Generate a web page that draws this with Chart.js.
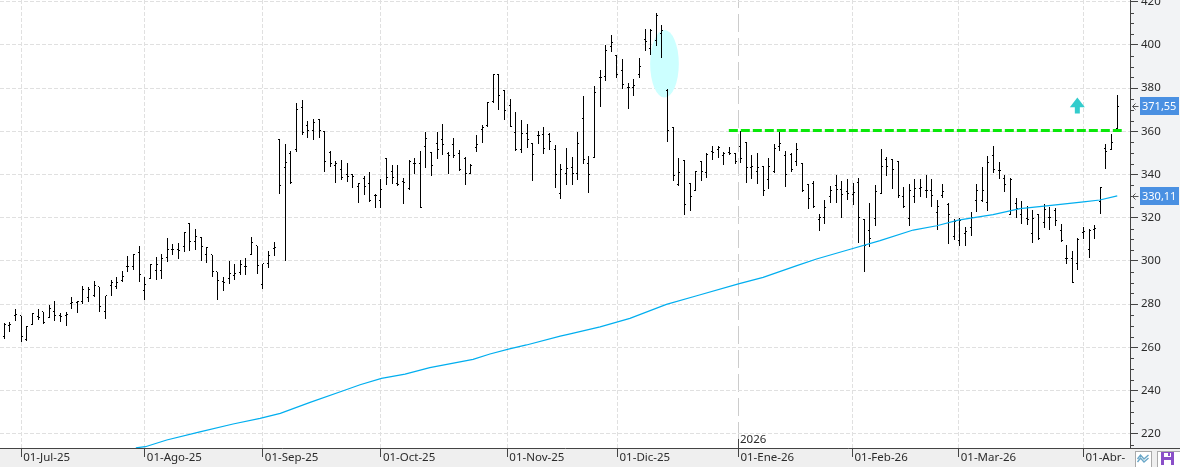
<!DOCTYPE html>
<html lang="es">
<head>
  <meta charset="UTF-8">
  <title>Cotización diaria</title>
  <style>
    html, body { margin: 0; padding: 0; background: #fff; overflow: hidden; }
    canvas { display: block; }
  </style>
  <script src="https://cdn.jsdelivr.net/npm/chart.js@4/dist/chart.umd.js"></script>
</head>
<body>
  <canvas id="chart" width="1180" height="467"></canvas>

  <script>
    // Daily price bars, one entry per session
    const opens = [
      264.8, 270, 274.7, 274.7, 263.6, 270.8, 274.4, 276.4, 273.9, 276.4,
      274.7, 274.8, 280.2, 280.6, 281.3, 283.2, 284.1, 288.1, 276.7, 288.7,
      288.3, 291, 297.5, 297.2, 303.7, 286.4, 291.8, 295.5, 295.5, 301.4,
      305.1, 305.2, 306.6, 317.1, 309.1, 311, 302.9, 302.8, 294.9, 290.4,
      291.7, 293.2, 294.8, 297.5, 302.9, 307.1, 289, 298.6, 305.6, 356.3,
      343.3, 349.8, 351.7, 371.1, 362.8, 360.2, 365.6, 359.8, 350.1, 344.4,
      342.4, 340.1, 339.8, 334.4, 338.1, 335.9, 330.4, 328.2, 347.4, 341.6,
      335.9, 337, 333.6, 345.3, 345.2, 352.9, 350.4, 354.4, 356.3, 349.7,
      354, 349.7, 347.2, 340.6, 352.6, 360.9, 362.6, 373.7, 386.1, 378.8,
      372, 359.4, 351.7, 358.8, 354.3, 358.1, 358.6, 358.3, 351.7, 331.3,
      340.6, 343.3, 340.6, 366, 344.9, 348, 385, 385.6, 399.2, 395.2,
      388.2, 380.4, 380.4, 386.2, 402.6, 398.4, 402, 405.1, 379.1, 361.9,
      335.5, 346.6, 335.9, 332.8, 346.2, 341, 350.6, 351.8, 348.6, 350.1,
      349.5, 353.2, 354.9, 343.3, 341.3, 343.6, 337.8, 341.3, 352.9, 348.9,
      349.3, 346, 345, 335.2, 335.8, 319.2, 320.1, 330, 335, 333.1,
      332.1, 330.9, 336.5, 319, 314.1, 319.6, 331.2, 346.9, 346.9, 346,
      329.8, 319.6, 329.8, 333.4, 332.6, 332.6, 322.4, 330.4, 326.3, 311.3,
      309.6, 312.7, 315.5, 328.1, 328, 327.2, 348.9, 342, 338.2, 321.7,
      326.4, 321.3, 319.7, 312.5, 321.3, 317.7, 320.2, 323.3, 314.3, 301,
      300.9, 298.9, 313.2, 305.1, 314.6, 327.3, 352.1, 351.8, 361.4
    ];
    const highs = [
      271.3, 271.6, 277.8, 274.7, 270.1, 275.8, 277.8, 276.5, 279.6, 281.5,
      275.9, 276.4, 283.3, 281.6, 288.6, 287.7, 290.7, 288.1, 283.8, 291.2,
      292.6, 295.2, 302.5, 303.2, 307.1, 292.6, 298.6, 301.7, 303.4, 310.6,
      308, 308.3, 313.4, 317.6, 314.8, 311.1, 306.5, 302.9, 294.9, 292.6,
      300, 298.8, 300.6, 301.5, 311.1, 307.1, 298.6, 304.8, 308.8, 356.3,
      354.1, 350.9, 373.1, 374.5, 364.8, 365.6, 365.7, 360, 350.9, 346.1,
      346.7, 345.3, 340.1, 336.2, 339.2, 341, 330.8, 337.8, 347.5, 344.3,
      344.4, 338.4, 346.7, 347.5, 350.9, 359.7, 350.6, 359.5, 363.4, 350.6,
      356.8, 351.4, 348, 344.7, 358.3, 362.9, 373.7, 386.4, 386.4, 379,
      374.8, 368.8, 365.2, 363.4, 354.4, 360.2, 362, 359.1, 353.7, 344.9,
      352.1, 348.1, 359.7, 376.2, 348.6, 380.8, 388.4, 400, 404.6, 395.3,
      393.5, 382.2, 384.2, 393.8, 407.4, 407.4, 414.6, 409.2, 379.4, 362,
      347.7, 346.7, 336.1, 341.5, 346.3, 350.1, 353.2, 353.2, 350.4, 352.7,
      349.8, 360.3, 355.1, 349, 349.8, 344, 347.7, 354.1, 359.8, 350.9,
      350, 354.4, 345.2, 335.4, 336.9, 321.9, 328.4, 334.6, 340, 336.8,
      338.1, 336.1, 338.6, 319.2, 326.6, 335.1, 352, 347.9, 347.1, 346.2,
      334, 335.8, 337.7, 338.1, 340, 338.1, 328.1, 335.8, 326.6, 319.6,
      320.1, 315.9, 322.6, 335.8, 343.4, 348.5, 353.1, 345.7, 339.8, 338.2,
      329, 327.8, 325.6, 323.4, 321.7, 326.2, 324.8, 324.4, 317, 307.2,
      304.6, 310.5, 315.6, 314.6, 316.6, 334.2, 354.1, 358.8, 376.8
    ];
    const lows = [
      264, 267, 272.1, 262.4, 262.8, 270.4, 272.5, 271, 273.5, 272.4,
      271.6, 269.8, 277.8, 275.9, 280.2, 280.9, 283.5, 276.2, 273, 283.6,
      287.2, 290.4, 294.9, 295.7, 290.1, 281.8, 291.5, 291, 291.8, 299.5,
      302.6, 301, 304.2, 304.8, 304.9, 299.8, 298.9, 292.4, 281.8, 286,
      289.4, 291.4, 293.7, 293.7, 302.9, 293.8, 286.9, 296.6, 302.2, 331,
      300, 335.8, 350.6, 358.5, 357.1, 356.1, 357.1, 341.3, 343.6, 336.2,
      337.5, 336.7, 333.9, 327, 330.4, 327.4, 324.4, 324.4, 335.2, 335.6,
      334.5, 326.5, 332.7, 340.1, 324.4, 343, 339.3, 347.3, 349, 340.2,
      347.7, 341.5, 335.2, 340.4, 350.4, 354.6, 362.2, 373.3, 369.9, 365.1,
      362.2, 351, 350.1, 352.3, 337.2, 354.1, 349.7, 351.4, 333.9, 328.8,
      335.3, 335.3, 337.5, 344.9, 331.6, 347.8, 371.3, 383.5, 396.9, 384.7,
      379.4, 370.3, 376.4, 384.7, 397.2, 395.3, 399.7, 393.9, 355.1, 337.2,
      334.7, 321.3, 323.3, 332.4, 337, 338.2, 346.7, 347.8, 344.4, 348.9,
      345, 345.3, 336.1, 337.9, 335.6, 330.2, 333.3, 340.9, 350.9, 334.4,
      341.3, 344.1, 331.9, 324.1, 324.4, 313.9, 317.3, 326.6, 326.6, 319.9,
      328.1, 326, 308.4, 294.9, 306.5, 316.1, 331.2, 339.4, 333.2, 329,
      324.4, 316.1, 326.9, 329.4, 329.2, 324.9, 314.2, 329, 307.8, 309.6,
      307, 307, 311.6, 322.6, 327.2, 323.2, 340.9, 338, 332.1, 321.3,
      319.9, 317.1, 316.6, 308.5, 309.7, 315.1, 314.3, 316.2, 308.9, 298.6,
      290, 295.8, 310.3, 301.5, 310.3, 321.9, 342.7, 351.5, 361.1
    ];
    const closes = [
      270.5, 270.5, 275.2, 264.8, 269.8, 275.5, 273.9, 271.6, 278.2, 274.7,
      274.2, 275.3, 280.6, 281.2, 286.9, 287, 288.6, 278.7, 283.8, 289.8,
      289.8, 292.6, 297.5, 302.9, 293.7, 288.9, 298.3, 298.3, 300.9, 305.1,
      305.1, 304.9, 313.3, 309.1, 311.1, 306.5, 306, 295.1, 291, 290.1,
      294.1, 294.4, 298.3, 297.4, 308.3, 297.8, 298.6, 302.5, 306, 335,
      345.7, 336.5, 369.9, 359.5, 360.2, 364.2, 360.2, 346.1, 345.2, 344.9,
      338.7, 339, 339.2, 335.9, 334.5, 328.1, 330.1, 333.2, 338.4, 338.4,
      335.2, 336.5, 345.8, 345.3, 324.8, 356.9, 344.4, 351.4, 353.8, 348.7,
      348.6, 342.4, 340.6, 344.3, 354, 361.9, 373.3, 386.1, 376.8, 369.6,
      362.2, 351.8, 359.1, 356, 349.2, 358.1, 352.1, 355.4, 340.1, 342.4,
      342.9, 340.6, 354.4, 347, 340.1, 378, 385, 397.3, 401.2, 386.4,
      381.9, 380.4, 381.3, 390.1, 401.4, 406.6, 413.4, 406.6, 360.2, 339.6,
      341, 326.2, 329.9, 341.2, 341.3, 349.4, 350.4, 352.4, 349.5, 349.7,
      346.1, 347.5, 343.2, 343.6, 343.3, 332.4, 343.6, 352.1, 354.4, 340.1,
      342.5, 351.7, 332.5, 328.9, 325, 320.1, 324.7, 332.4, 333.2, 330.9,
      331.4, 331.5, 320.1, 307.3, 310.4, 332.3, 343.9, 343.9, 342.3, 330.4,
      325, 332.4, 333.5, 333.8, 332.6, 330.3, 325, 332.1, 321.5, 318.4,
      318.9, 313.8, 320.1, 332.7, 332.4, 345.6, 342.3, 341.7, 335.6, 337.9,
      324.4, 324.4, 319.3, 319.7, 310.3, 323.6, 320.2, 318.6, 309.4, 301,
      290.1, 310, 313.6, 314.3, 315, 333.9, 350.6, 354.9, 371.55
    ];

    // Moving average, read at a handful of sessions
    const avgIndex = [
      23.4, 25.1, 28.9, 34.8, 40.7, 45.5, 49.1, 54.4, 60.3, 63.3,
      67.1, 71.3, 75.7, 83.4, 86.4, 89.7, 92.9, 98.9, 100.3, 106,
      111.3, 117.8, 123.2, 130.6, 135, 141, 144.5, 150.5, 155.8, 161.7,
      165.9, 169.7, 175.9, 180.7, 185, 192, 194.9, 198
    ];
    const avgValues = [
      213.5, 214, 217.1, 220.9, 224.5, 227.1, 229.4, 234.5, 239.9, 242.7,
      245.6, 247.6, 250.6, 254.4, 256.9, 259.2, 261.1, 265.2, 266, 269.5,
      273.4, 279.9, 283.9, 289.4, 292.4, 297.8, 300.9, 305.4, 309.4, 314.3,
      316.3, 318.9, 321.4, 324.2, 325.4, 327.3, 328.2, 330.11
    ];

    // Resistance line
    const levelIndex = [128.9, 198.8];
    const levelValues = [360.37, 360.37];

    // Month marks on the time axis; the January one also opens the year
    const monthIndex = [3, 25, 46, 67, 89.5, 109.1, 130.6, 150.9, 169.8, 192];
    const monthLabels = ['01-Jul-25', '01-Ago-25', '01-Sep-25', '01-Oct-25', '01-Nov-25', '01-Dic-25', '01-Ene-26', '01-Feb-26', '01-Mar-26', '01-Abr-'];
    const yearIndex = 130.6;
    const yearLabel = '2026';

    // Price axis
    const priceTicks = [220, 240, 260, 280, 300, 320, 340, 360, 380, 400, 420];

    // Tags on the price axis
    const tagValues = [371.55, 330.11];
    const tagLabels = ['371,55', '330,11'];

    // Drawn shapes, placed in session / price units
    const gapEllipse = { left: 114.9, right: 120, top: 406.9, bottom: 375.6 };
    const upArrow = { index: 190.9, tip: 375.6, neck: 371.1, tail: 368.2 };

    const FAMILY = '"Noto Sans", Tahoma, sans-serif';
    const TEXT_COLOR = '#2b2b2b';

    // One-pixel stub used as the open (left) or close (right) tick of a bar
    function tickImage(side) {
      const c = document.createElement('canvas');
      c.width = 3;
      c.height = 1;
      const g = c.getContext('2d');
      g.fillStyle = '#000';
      g.fillRect(side === 'left' ? 0 : 2, 0, 1, 1);
      return c;
    }

    // Bars and ticks land on whole pixels so they stay crisp
    const snapPlugin = {
      id: 'snap',
      beforeDatasetsDraw(chart) {
        chart.data.datasets.forEach((ds, i) => {
          if (!ds.snap) return;
          chart.getDatasetMeta(i).data.forEach(el => {
            el.x = Math.floor(el.x) + 0.5;
            if (ds.type === 'line') {
              el.y = Math.floor(el.y) + 0.5;
            } else {
              el.y = Math.round(el.y);
              el.base = Math.round(el.base);
            }
          });
        });
      }
    };

    const panelPlugin = {
      id: 'panels',
      beforeDraw(chart) {
        const { ctx, chartArea: a, width, height } = chart;
        ctx.save();
        ctx.fillStyle = '#f2f3f5';
        ctx.fillRect(a.right, 0, width - a.right, a.bottom);
        ctx.fillStyle = '#efefef';
        ctx.fillRect(0, a.bottom, width, height - a.bottom);
        ctx.restore();
      },
      beforeDatasetsDraw(chart) {
        // Highlight ellipse sits under the bars
        const { ctx, scales: { x, y } } = chart;
        const l = x.getPixelForValue(gapEllipse.left), r = x.getPixelForValue(gapEllipse.right);
        const t = y.getPixelForValue(gapEllipse.top), b = y.getPixelForValue(gapEllipse.bottom);
        ctx.save();
        ctx.fillStyle = '#ccffff';
        ctx.beginPath();
        ctx.ellipse((l + r) / 2, (t + b) / 2, (r - l) / 2, (b - t) / 2, 0, 0, Math.PI * 2);
        ctx.fill();
        ctx.restore();
      },
      afterDraw(chart) {
        const { ctx, chartArea: a, width, scales: { x, y } } = chart;
        ctx.save();

        // Minor ticks every 5 on the price axis
        ctx.strokeStyle = '#444';
        ctx.lineWidth = 1;
        ctx.beginPath();
        for (let v = Math.ceil(y.min / 5) * 5; v <= y.max; v += 5) {
          if (v % 20 === 0) continue;
          const py = Math.round(y.getPixelForValue(v)) + 0.5;
          ctx.moveTo(a.right, py);
          ctx.lineTo(a.right + 4, py);
        }
        ctx.moveTo(a.right, a.bottom + 0.5);
        ctx.lineTo(width, a.bottom + 0.5);
        ctx.stroke();

        // Year marker above the January tick
        const yx = Math.floor(x.getPixelForValue(yearIndex)) + 0.5;
        ctx.beginPath();
        ctx.moveTo(yx, a.bottom - 9);
        ctx.lineTo(yx, a.bottom);
        ctx.stroke();
        ctx.font = '11.5px ' + FAMILY;
        ctx.fillStyle = TEXT_COLOR;
        ctx.textBaseline = 'middle';
        ctx.fillText(yearLabel, yx + 1.5, a.bottom - 8.5);

        // Up arrow
        const ax = x.getPixelForValue(upArrow.index);
        const tip = y.getPixelForValue(upArrow.tip), neck = y.getPixelForValue(upArrow.neck), tail = y.getPixelForValue(upArrow.tail);
        ctx.fillStyle = '#33cccc';
        ctx.beginPath();
        ctx.moveTo(ax, tip);
        ctx.lineTo(ax + 7.5, neck);
        ctx.lineTo(ax + 2.5, neck);
        ctx.lineTo(ax + 2.5, tail);
        ctx.lineTo(ax - 2.5, tail);
        ctx.lineTo(ax - 2.5, neck);
        ctx.lineTo(ax - 7.5, neck);
        ctx.closePath();
        ctx.fill();

        // Last-value tags with their small pointers
        ctx.font = '11px ' + FAMILY;
        tagValues.forEach((v, i) => {
          const py = y.getPixelForValue(v);
          ctx.fillStyle = '#4a90e2';
          ctx.fillRect(a.right + 10, Math.round(py) - 9, 39, 18);
          ctx.fillStyle = '#fff';
          ctx.textBaseline = 'middle';
          ctx.fillText(tagLabels[i], a.right + 12, Math.round(py) + 0.5);
          ctx.strokeStyle = '#555';
          ctx.beginPath();
          ctx.moveTo(a.right + 8.5, Math.round(py) + 0.5);
          ctx.lineTo(a.right + 2.5, Math.round(py) + 0.5);
          ctx.moveTo(a.right + 5.5, Math.round(py) - 2.5);
          ctx.lineTo(a.right + 2.5, Math.round(py) + 0.5);
          ctx.lineTo(a.right + 5.5, Math.round(py) + 3.5);
          ctx.stroke();
        });

        // Toolbar buttons in the corner
        ctx.fillStyle = '#fff';
        ctx.strokeStyle = '#aaa';
        ctx.fillRect(1135, 451, 16, 16);
        ctx.strokeRect(1135.5, 451.5, 16, 16);
        ctx.fillRect(1157, 451, 23, 16);
        ctx.strokeRect(1157.5, 451.5, 23, 16);
        ctx.strokeStyle = '#6aa7c8';
        ctx.lineWidth = 1.4;
        ctx.beginPath();
        ctx.moveTo(1137.5, 459);
        ctx.lineTo(1140.5, 455);
        ctx.lineTo(1144, 459);
        ctx.lineTo(1148.5, 455);
        ctx.moveTo(1137.5, 462);
        ctx.lineTo(1140.5, 458);
        ctx.lineTo(1144, 462);
        ctx.lineTo(1148.5, 458);
        ctx.stroke();
        ctx.fillStyle = '#8a4fc8';
        ctx.fillRect(1161, 452, 13, 13);
        ctx.fillStyle = '#fff';
        ctx.fillRect(1164, 453, 7, 4);
        ctx.fillRect(1164, 460, 7, 5);
        ctx.fillStyle = '#8a4fc8';
        ctx.fillRect(1168, 453, 2, 3);

        ctx.restore();
      }
    };

    // Fixed axis sizes, and no extra room reserved for the outer labels
    function fixSize(scale, w, h) {
      if (w) scale.width = w;
      if (h) scale.height = h;
      scale.paddingLeft = scale.paddingRight = scale.paddingTop = scale.paddingBottom = 0;
    }

    const barData = highs.map((h, i) => ({ x: i, y: [lows[i], h] }));

    new Chart(document.getElementById('chart'), {
      type: 'bar',
      data: {
        datasets: [
          {
            type: 'line', label: 'Resistencia', order: 1,
            data: levelIndex.map((x, i) => ({ x, y: levelValues[i] })),
            borderColor: '#0ae80a', borderWidth: 3, borderDash: [9, 3], pointRadius: 0
          },
          {
            type: 'line', label: 'Media', order: 2,
            data: avgIndex.map((x, i) => ({ x, y: avgValues[i] })),
            borderColor: '#00aeef', borderWidth: 1.2, pointRadius: 0, tension: 0
          },
          {
            type: 'line', label: 'Apertura', order: 3, snap: true, showLine: false,
            data: opens.map((y, x) => ({ x, y })),
            pointStyle: tickImage('left'), pointRadius: 2
          },
          {
            type: 'line', label: 'Cierre', order: 3, snap: true, showLine: false,
            data: closes.map((y, x) => ({ x, y })),
            pointStyle: tickImage('right'), pointRadius: 2
          },
          {
            type: 'bar', label: 'Rango', order: 4, snap: true,
            data: barData,
            backgroundColor: '#000', borderWidth: 0, barThickness: 1, inflateAmount: 0
          }
        ]
      },
      options: {
        responsive: false,
        animation: false,
        events: [],
        plugins: { legend: { display: false }, tooltip: { enabled: false } },
        layout: { padding: 0, autoPadding: false },
        scales: {
          x: {
            type: 'linear',
            bounds: 'data',
            offset: false,
            min: -0.765,
            max: 200.27,
            afterBuildTicks(axis) { axis.ticks = monthIndex.map(value => ({ value })); },
            afterFit(scale) { fixSize(scale, 0, 19); },
            grid: {
              offset: false,
              color: c => (c.tick && c.tick.value === yearIndex ? '#cccccc' : '#e0e0e0'),
              tickColor: '#444',
              tickLength: 9,
              tickBorderDash: []
            },
            border: {
              color: '#444',
              dash: c => (c.tick && c.tick.value === yearIndex ? [18, 6] : [4, 2]),
              dashOffset: c => (c.tick && c.tick.value === yearIndex ? 10 : 0)
            },
            ticks: {
              align: 'start',
              labelOffset: 2,
              padding: -6,
              autoSkip: false,
              maxRotation: 0,
              minRotation: 0,
              color: TEXT_COLOR,
              font: { family: FAMILY, size: 11.5 },
              callback: (value, i) => monthLabels[i]
            }
          },
          y: {
            type: 'linear',
            position: 'right',
            bounds: 'data',
            min: 213.4,
            max: 420.79,
            afterBuildTicks(axis) { axis.ticks = priceTicks.map(value => ({ value })); },
            afterFit(scale) { fixSize(scale, 50, 0); },
            grid: {
              color: '#e0e0e0',
              tickColor: '#444',
              tickLength: 8,
              tickBorderDash: []
            },
            border: { color: '#444', dash: [4, 2] },
            ticks: {
              padding: 3,
              autoSkip: false,
              color: TEXT_COLOR,
              font: { family: FAMILY, size: 11.5 }
            }
          }
        }
      },
      plugins: [snapPlugin, panelPlugin]
    });
  </script>
</body>
</html>
